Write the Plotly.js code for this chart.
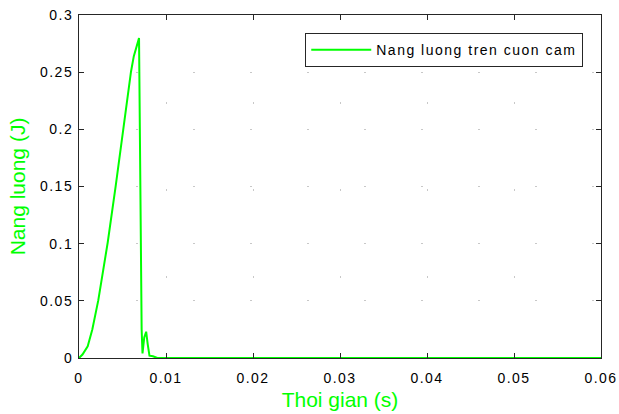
<!DOCTYPE html>
<html><head><meta charset="utf-8">
<script src="https://cdn.plot.ly/plotly-3.0.1.min.js"></script>
<style>
html,body{margin:0;padding:0;background:#fff}#chart{width:619px;height:414px}
.xtick text,.ytick text,.legendtext{letter-spacing:1.5px}
</style>
</head><body><div id="chart"></div>
<script>
const timeS = [0, 0.0004, 0.001, 0.00153, 0.00222, 0.0029, 0.0033, 0.00422, 0.0051, 0.00598, 0.0063, 0.00663, 0.0069, 0.0072, 0.0073, 0.0075, 0.00772, 0.0079, 0.0081, 0.0085, 0.0088, 0.009, 0.06];
const energyJ = [0, 0.003, 0.0102, 0.0249, 0.0506, 0.0833, 0.101, 0.1506, 0.2009, 0.2506, 0.264, 0.274, 0.2798, 0.025, 0.004, 0.018, 0.023, 0.012, 0.002, 0.0015, 0.001, 0, 0];
const seriesName = 'Nang luong tren cuon cam';
const xTicks = [0, 0.01, 0.02, 0.03, 0.04, 0.05, 0.06];
const xTickText = ['0', '0.01', '0.02', '0.03', '0.04', '0.05', '0.06'];
const yTicks = [0, 0.05, 0.1, 0.15, 0.2, 0.25, 0.3];
const yTickText = ['0', '0.05', '0.1', '0.15', '0.2', '0.25', '0.3'];

const fam = 'Liberation Sans, Arial, sans-serif';
const font = {family: fam, size: 14, color: '#000'};
const trace = {x: timeS, y: energyJ, type: 'scatter', mode: 'lines', name: seriesName,
  line: {color: '#00ff00', width: 2}, cliponaxis: false};
const axisCommon = {showline: true, linecolor: '#262626', linewidth: 1, mirror: 'ticks',
  ticks: 'inside', ticklen: 5, tickcolor: '#262626', zeroline: false, showgrid: true,
  gridcolor: '#c8c8c8', gridwidth: 1, tickfont: font};
const layout = {
  width: 619, height: 414, paper_bgcolor: '#fff', plot_bgcolor: '#fff',
  margin: {l: 79, r: 18, t: 15, b: 56},
  font: font,
  showlegend: true,
  legend: {x: 0.966, y: 0.947, xanchor: 'right', yanchor: 'top', bgcolor: '#fff',
    bordercolor: '#262626', borderwidth: 1, itemwidth: 60,
    font: {family: fam, size: 14, color: '#000'}},
  xaxis: Object.assign({}, axisCommon, {range: [0, 0.06], tickvals: xTicks, ticktext: xTickText,
    griddash: '2px,85px', ticklabelstandoff: 7,
    title: {text: 'Thoi gian (s)', font: {family: fam, size: 21, color: '#00ff00'}, standoff: 7}}),
  yaxis: Object.assign({}, axisCommon, {range: [0, 0.3], tickvals: yTicks, ticktext: yTickText,
    griddash: '2px,55px', ticklabelstandoff: 2,
    title: {text: 'Nang luong (J)', font: {family: fam, size: 21, color: '#00ff00'}, standoff: 8}})
};
Plotly.newPlot('chart', [trace], layout, {staticPlot: true, displayModeBar: false});
</script></body></html>
